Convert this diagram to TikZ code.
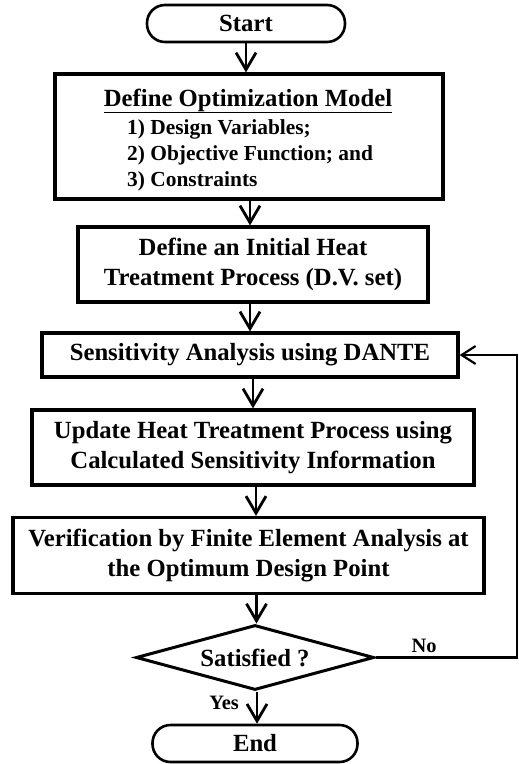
\documentclass[tikz,border=0pt]{standalone}
\usepackage{fontspec}
\setmainfont{Liberation Serif}
\usetikzlibrary{arrows.meta,shapes.geometric}
\begin{document}
\begin{tikzpicture}[x=1bp,y=-1bp,
  txt/.style={font=\bfseries\fontsize{24.8}{30}\selectfont},
  box/.style={draw,line width=3.2bp,inner sep=0pt,align=center,txt},
  term/.style={draw,line width=2.6bp,rounded corners=18bp,inner sep=0pt,txt},
  flow/.style={line width=2.8bp,-{Straight Barb[length=17bp,width=20bp]}},
  back/.style={line width=2.2bp,-{Straight Barb[length=14bp,width=18bp]}},
  item/.style={font=\bfseries\fontsize{21.5}{26}\selectfont,anchor=base west,inner sep=0pt},
  lbl/.style={font=\bfseries\fontsize{20.5}{24}\selectfont,inner sep=0pt}
]
\useasboundingbox (0,0) rectangle (519,764);

% terminals, process boxes and the decision
\node[term,minimum width=198bp,minimum height=37bp] (start) at (246,23.5) {Start};
\node[box,minimum width=388bp,minimum height=125bp] (model) at (249,136.5) {};
\node[txt,anchor=base,inner sep=0pt] (mtitle) at (248,106) {\underline{Define Optimization Model}};
\node[item] (m1) at (127,134) {1) Design Variables;};
\node[item] (m2) at (127,160) {2) Objective Function; and};
\node[item] (m3) at (127,186) {3) Constraints};
\node[box,minimum width=350bp,minimum height=75bp] (init) at (253,264.5)
  {Define an Initial Heat\\Treatment Process (D.V. set)};
\node[box,minimum width=416bp,minimum height=44bp] (sens) at (250,355)
  {Sensitivity Analysis using DANTE};
\node[box,minimum width=442bp,minimum height=75bp] (upd) at (253,447.5)
  {Update Heat Treatment Process using\\Calculated Sensitivity Information};
\node[box,minimum width=471bp,minimum height=76bp] (ver) at (248.5,555.5)
  {Verification by Finite Element Analysis at\\the Optimum Design Point};
\node[diamond,draw,line width=3bp,inner sep=0pt,aspect=3.66,
      minimum width=238bp,minimum height=65bp,txt] (dec) at (255,657.5) {Satisfied ?};
\node[term,minimum width=205bp,minimum height=37bp] (end) at (255,743.5) {End};

% main flow
\draw[flow] (start.south) -- (start.south |- model.north);
\draw[flow] ([xshift=1bp]model.south) -- ([xshift=1bp]model.south |- init.north);
\draw[flow] ([xshift=-3bp]init.south) -- ([xshift=-3bp]init.south |- sens.north);
\draw[flow] ([xshift=3bp]sens.south) -- ([xshift=3bp]sens.south |- upd.north);
\draw[flow] ([xshift=3bp]upd.south) -- ([xshift=3bp]upd.south |- ver.north);
\draw[flow] ([xshift=8bp]ver.south) -- ([xshift=8bp]ver.south |- dec.north);
\draw[flow] ([xshift=2bp]dec.south) -- ([xshift=2bp]dec.south |- end.north);

% loop back when not satisfied
\coordinate (loop) at (517,657.5);
\draw[back] (dec.east) -- (loop) |- (sens.east);

% branch labels
\node[lbl] (no) at (424,646) {No};
\node[lbl] (yes) at (224,703) {Yes};
\end{tikzpicture}
\end{document}
